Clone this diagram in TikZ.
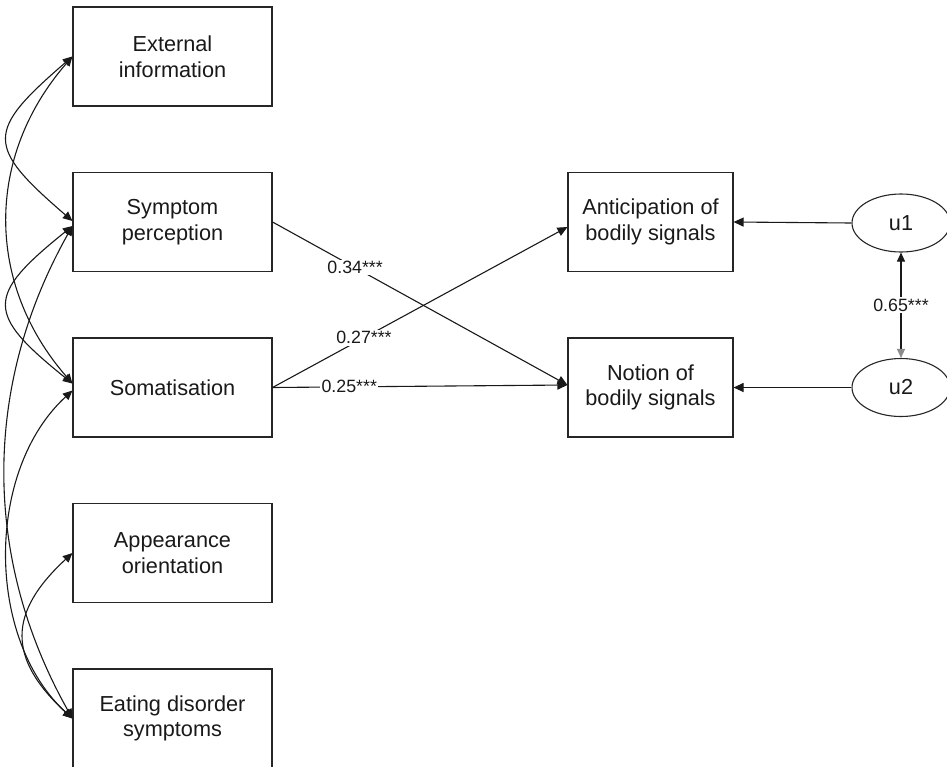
\documentclass[tikz,border=0pt]{standalone}
\usepackage{fontspec}
\setmainfont{Liberation Sans}
\usetikzlibrary{arrows.meta,shapes.geometric}
\begin{document}
\begin{tikzpicture}[x=1pt,y=-1pt,
  box/.style={draw=black!85, line width=1.1pt, minimum width=199pt, minimum height=99pt,
    align=center, inner sep=0pt, text=black!90, font=\fontsize{21.7}{25.5}\selectfont},
  rbox/.style={box, minimum width=165pt},
  lat/.style={ellipse, draw=black!85, line width=1.1pt, minimum width=98pt, minimum height=58pt,
    inner sep=0pt, text=black!90, font=\fontsize{21.7}{25.5}\selectfont},
  regpath/.style={line width=1.1pt, draw=black!90, -{Triangle[length=10pt,width=9pt]}},
  cov/.style={line width=1.1pt, draw=black!90, {Triangle[length=9.5pt,width=8.5pt]}-{Triangle[length=9.5pt,width=8.5pt]}},
  lab/.style={fill=white, inner sep=1.5pt, text=black!90, font=\fontsize{17.8}{20}\selectfont}
]
\useasboundingbox (0,0) rectangle (947,766);

% left boxes
\node[box] (ext) at (172.5,56.5) {External\\information};
\node[box] (sym) at (172.5,222) {Symptom\\perception};
\node[box] (som) at (172.5,387.5) {Somatisation};
\node[box] (app) at (172.5,553) {Appearance\\orientation};
\node[box] (eat) at (172.5,718.5) {Eating disorder\\symptoms};

% right boxes
\node[rbox] (ant) at (650.5,222) {Anticipation of\\bodily signals};
\node[rbox] (not) at (650.5,387.5) {Notion of\\bodily signals};

% residuals
\node[lat] (u1) at (901,223) {u1};
\node[lat] (u2) at (901,387.5) {u2};

% regression paths
\draw[regpath] (sym.east) -- node[lab,pos=0.28]{0.34***} ([yshift=2.5pt]not.west);
\draw[regpath] (som.east) -- node[lab,pos=0.31]{0.27***} ([yshift=-5pt]ant.west);
\draw[regpath] (som.east) -- node[lab,pos=0.26]{0.25***} ([yshift=2.5pt]not.west);
\draw[regpath] (u1.west) -- (ant.east);
\draw[regpath] (u2.west) -- (not.east);

% residual covariance
\draw[line width=1.1pt, draw=black!90,
  {Triangle[length=9pt,width=8pt]}-{Triangle[length=9pt,width=8pt,color=black!45]}]
  (u1.south) -- node[lab]{0.65***} (u2.north);

% covariances among predictors
\draw[cov] (ext.west) .. controls +(-87,75) and +(-87,-75) .. ([yshift=1pt]sym.west);
\draw[cov] (ext.west) .. controls +(-87,100) and +(-87,-100) .. ([yshift=4pt]som.west);
\draw[cov] ([yshift=-4pt]sym.west) .. controls +(-87,70) and +(-87,-70) .. ([yshift=4pt]som.west);
\draw[cov] ([yshift=-4pt]sym.west) .. controls +(-90,160) and +(-90,-160) .. (eat.west);
\draw[cov] ([yshift=-3pt]som.west) .. controls +(-87,80) and +(-87,-80) .. (eat.west);
\draw[cov] (app.west) .. controls +(-65,60) and +(-65,-60) .. (eat.west);
\end{tikzpicture}
\end{document}
